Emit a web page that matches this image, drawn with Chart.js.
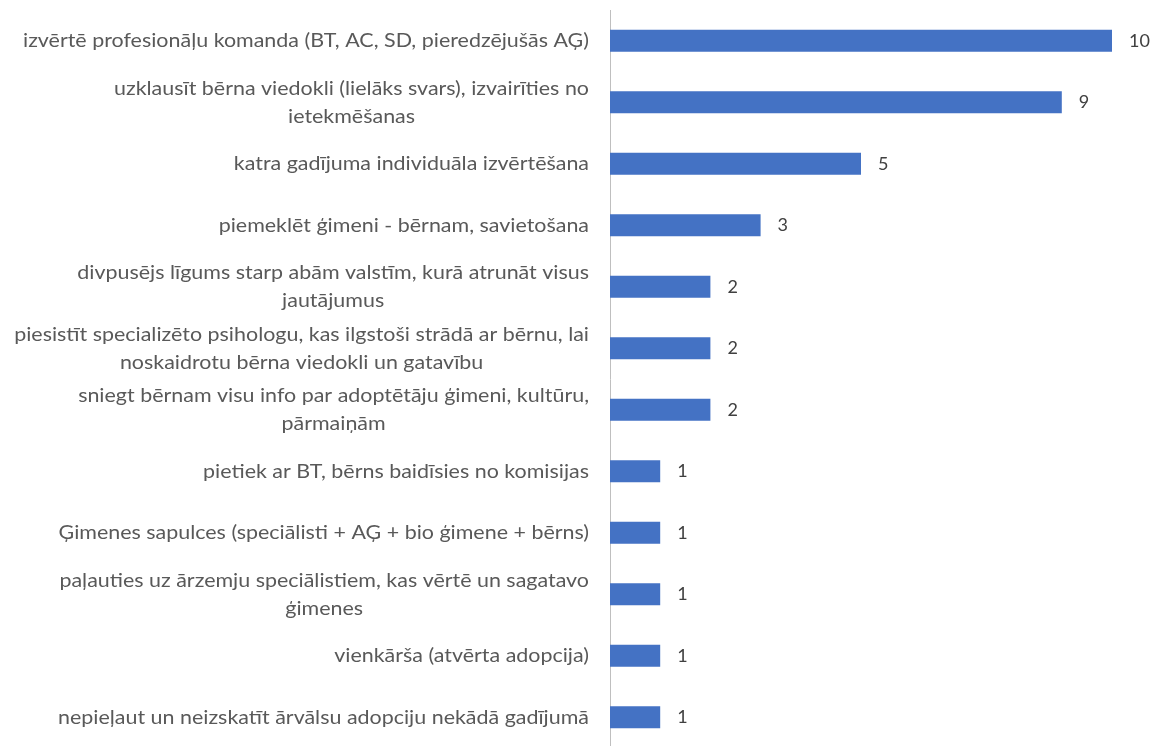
<!DOCTYPE html>
<html>
<head>
<meta charset="utf-8">
<script src="https://cdn.jsdelivr.net/npm/chart.js@4"></script>
<style>
  html, body { margin: 0; padding: 0; background: #fff; overflow: hidden; }
  #wrap { width: 1155px; height: 748px; position: relative; }
</style>
</head>
<body>
<div id="wrap"><canvas id="chart"></canvas></div>
<script>
// kategorijas (vairākrindu etiķetes kā masīvi)
const categories = [
  "izvērtē profesionāļu komanda (BT, AC, SD, pieredzējušās AĢ)",
  ["uzklausīt bērna viedokli (lielāks svars), izvairīties no", "ietekmēšanas"],
  "katra gadījuma individuāla izvērtēšana",
  "piemeklēt ģimeni - bērnam, savietošana",
  ["divpusējs līgums starp abām valstīm, kurā atrunāt visus", "jautājumus"],
  ["piesistīt specializēto psihologu, kas ilgstoši strādā ar bērnu, lai", "noskaidrotu bērna viedokli un gatavību"],
  ["sniegt bērnam visu info par adoptētāju ģimeni, kultūru,", "pārmaiņām"],
  "pietiek ar BT, bērns baidīsies no komisijas",
  "Ģimenes sapulces (speciālisti + AĢ + bio ģimene + bērns)",
  ["paļauties uz ārzemju speciālistiem, kas vērtē un sagatavo", "ģimenes"],
  "vienkārša (atvērta adopcija)",
  "nepieļaut un neizskatīt ārvālsu adopciju nekādā gadījumā"
];
const counts = [10, 9, 5, 3, 2, 2, 2, 1, 1, 1, 1, 1];
const xMin = 0;
const xMax = 10;

const labelFont = "20px Lato";
const labelColor = "#595959";

// etiķetes un vērtības zīmējam paši, lai rindas būtu centrētas bloka iekšā
const labelPlugin = {
  id: "labelPlugin",
  afterDatasetsDraw(chart) {
    const ctx = chart.ctx;
    const yScale = chart.scales.y;
    const meta = chart.getDatasetMeta(0);

    ctx.save();
    ctx.font = labelFont;
    ctx.fillStyle = labelColor;
    ctx.textBaseline = "middle";
    ctx.textAlign = "center";
    // saspiež tekstu horizontāli, lai platums atbilstu oriģinālam
    const ref = ctx.measureText(categories[0]).width;
    const sx = 566 / ref;
    const rightX = 589;
    const lh = 28;
    categories.forEach((lab, i) => {
      const lines = Array.isArray(lab) ? lab : [lab];
      const cy = yScale.getPixelForValue(i);
      const blockW = Math.max(...lines.map(l => ctx.measureText(l).width)) * sx;
      const cx = rightX - blockW / 2;
      lines.forEach((l, j) => {
        const y = cy + (j - (lines.length - 1) / 2) * lh;
        ctx.save();
        ctx.translate(cx, y);
        ctx.scale(sx, 1);
        ctx.fillText(l, 0, 0);
        ctx.restore();
      });
    });

    ctx.font = "18px Lato";
    ctx.fillStyle = "#404040";
    ctx.textAlign = "left";
    meta.data.forEach((bar, i) => {
      ctx.fillText(String(counts[i]), bar.x + 17, bar.y);
    });
    ctx.restore();
  }
};

new Chart(document.getElementById("chart"), {
  type: "bar",
  data: {
    labels: categories,
    datasets: [{
      data: counts,
      backgroundColor: "#4472C4",
      borderWidth: 0,
      barPercentage: 0.355,
      categoryPercentage: 1
    }]
  },
  options: {
    indexAxis: "y",
    responsive: true,
    maintainAspectRatio: false,
    animation: false,
    layout: { padding: { top: 10, right: 43, left: 0, bottom: 0 } },
    plugins: {
      legend: { display: false },
      tooltip: { enabled: false }
    },
    scales: {
      x: { display: false, min: xMin, max: xMax },
      y: {
        grid: { display: false },
        border: { display: true, color: "#bfbfbf", width: 1 },
        ticks: { display: false },
        afterFit(scale) { scale.width = 610; }
      }
    }
  },
  plugins: [labelPlugin]
});
</script>
</body>
</html>
